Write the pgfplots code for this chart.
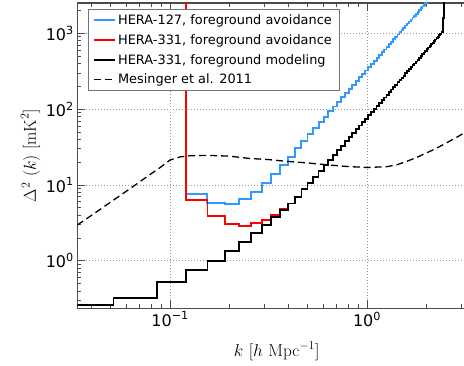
\documentclass[border=0pt]{standalone}
\usepackage[no-math]{fontspec}
\setmainfont{DejaVu Sans}
\usepackage{pgfplots}
\usepackage{pgfplotstable}
\pgfplotsset{compat=1.18}
\definecolor{heraBlue}{RGB}{51,153,255}

\pgfplotstableread{
k D
0.1204 50000
0.1204 7.6
0.1548 5.77
0.1892 5.55
0.2236 6.5
0.2580 8.1
0.2924 10.5
0.3268 13.9
0.3612 18.3
0.3956 23.6
0.4300 30.4
0.4644 37.8
0.4988 46.4
0.5332 56.1
0.5676 66.9
0.6020 79.3
0.6364 93.3
0.6708 108.4
0.7052 125.0
0.7396 143.2
0.7740 164.1
0.8084 185.4
0.8428 209.6
0.8772 235.2
0.9116 262.1
0.9460 292.3
0.9804 323.6
1.0148 358.3
1.0492 394.1
1.0836 433.5
1.1180 473.3
1.1524 517.2
1.1868 564.9
1.2212 612.6
1.2556 664.8
1.2900 721.1
1.3244 777.4
1.3588 837.5
1.3932 902.6
1.4276 966.1
1.4620 1034
1.4964 1106
1.5308 1184
1.5652 1268
1.5996 1348
1.6340 1432
1.6684 1522
1.7028 1618
1.7372 1709
1.7716 1816
1.8060 1919
1.8404 2025
1.8748 2138
1.9092 2258
1.9436 2384
1.9780 2500
2.0124 2641
2.0468 2768
2.0812 2768
}\heraA

\pgfplotstableread{
k D
0.1204 50000
0.1204 6.3
0.1548 3.93
0.1892 3.02
0.2236 2.87
0.2580 3.14
0.2924 3.48
0.3268 4.05
0.3612 4.9
0.3956 5.7
0.4300 7.0
0.4644 8.75
0.4988 10.5
0.5332 12.8
0.5676 15.4
0.6020 18.3
0.6364 21.3
0.6708 24.9
0.7052 28.8
0.7396 33.0
0.7740 37.8
0.8084 42.8
0.8428 48.4
0.8772 54.4
0.9116 60.7
0.9460 67.7
0.9804 75.0
1.0148 83.1
1.0492 91.4
1.0836 100.7
1.1180 109.9
1.1524 120.2
1.1868 131.4
1.2212 142.6
1.2556 154.9
1.2900 168.1
1.3244 181.1
1.3588 195.3
1.3932 210.6
1.4276 225.4
1.4620 241.5
1.4964 258.6
1.5308 276.8
1.5652 296.5
1.5996 315.3
1.6340 335.0
1.6684 356.5
1.7028 379.3
1.7372 400.6
1.7716 425.8
1.8060 449.8
1.8404 475.3
1.8748 502
1.9092 530
1.9436 560
1.9780 588
2.0124 620
2.0468 651
2.0812 682
2.1156 716
2.1500 752
2.1844 789
2.2188 827
2.2532 862
2.2876 904
2.3220 942
2.3564 988
2.3908 1029
2.4252 1600
2.4596 50000
2.4940 50000
}\heraB

\pgfplotstableread{
k D
0.0172 0.26
0.0516 0.325
0.0860 0.52
0.1204 0.75
0.1548 1.0
0.1892 1.34
0.2236 1.77
0.2580 2.3
0.2924 2.96
0.3268 3.8
0.3612 4.67
0.3956 5.7
0.4300 7.0
0.4644 8.75
0.4988 10.5
0.5332 12.8
0.5676 15.4
0.6020 18.3
0.6364 21.3
0.6708 24.9
0.7052 28.8
0.7396 33.0
0.7740 37.8
0.8084 42.8
0.8428 48.4
0.8772 54.4
0.9116 60.7
0.9460 67.7
0.9804 75.0
1.0148 83.1
1.0492 91.4
1.0836 100.7
1.1180 109.9
1.1524 120.2
1.1868 131.4
1.2212 142.6
1.2556 154.9
1.2900 168.1
1.3244 181.1
1.3588 195.3
1.3932 210.6
1.4276 225.4
1.4620 241.5
1.4964 258.6
1.5308 276.8
1.5652 296.5
1.5996 315.3
1.6340 335.0
1.6684 356.5
1.7028 379.3
1.7372 400.6
1.7716 425.8
1.8060 449.8
1.8404 475.3
1.8748 502
1.9092 530
1.9436 560
1.9780 588
2.0124 620
2.0468 651
2.0812 682
2.1156 716
2.1500 752
2.1844 789
2.2188 827
2.2532 862
2.2876 904
2.3220 942
2.3564 988
2.3908 1029
2.4252 1600
2.4596 50000
2.4940 50000
}\heraC

\pgfplotstableread{
k D
0.0338 2.96
0.0398 3.95
0.0501 5.98
0.0631 9.06
0.0794 13.8
0.0891 17.0
0.1000 21.3
0.1120 23.4
0.1260 24.3
0.1580 24.5
0.2000 24.0
0.2510 22.4
0.3160 21.6
0.3980 20.4
0.5010 19.5
0.6310 18.4
0.7940 17.5
1.0000 17.0
1.2590 17.4
1.4130 18.4
1.5850 20.4
1.7780 22.9
1.9950 26.3
2.2390 30.2
2.5120 35.5
2.8180 41.7
3.0900 47.9
3.5730 57.5
}\mesinger

\begin{document}
\begin{tikzpicture}
\begin{axis}[
  at={(0pt,0pt)}, anchor=south west,
  width=398.7pt, height=305.3pt, scale only axis,
  xmode=log, ymode=log,
  xmin=0.0338, xmax=3.576, ymin=0.236, ymax=2512,
  xtick={0.1,1},
  xticklabels={10\textsuperscript{−1},10\textsuperscript{0}},
  ytick={1,10,100,1000},
  yticklabels={10\textsuperscript{0},10\textsuperscript{1},10\textsuperscript{2},10\textsuperscript{3}},
  minor xtick={0.04,0.05,0.06,0.07,0.08,0.09,0.2,0.3,0.4,0.5,0.6,0.7,0.8,0.9,2,3},
  minor ytick={0.3,0.4,0.5,0.6,0.7,0.8,0.9,2,3,4,5,6,7,8,9,20,30,40,50,60,70,80,90,200,300,400,500,600,700,800,900,2000},
  tick align=inside,
  major tick length=8pt, minor tick length=4pt,
  xtick pos=both, ytick pos=both,
  axis line style={black!70, line width=1.1pt},
  major tick style={black!70, line width=0.8pt},
  minor tick style={black!70, line width=0.6pt},
  grid=major,
  major grid style={black!40, line width=0.7pt, dash pattern=on 1pt off 2pt},
  ticklabel style={font=\fontsize{16}{19}\selectfont},
  xlabel={$k\ [h\ \mathrm{Mpc}^{-1}]$},
  ylabel={$\Delta^2\ (k)\ [\mathrm{mK}^2]$},
  xlabel style={font=\fontsize{17.5}{20}\selectfont, at={(axis description cs:0.5,0)}, anchor=base, yshift=-48.5pt},
  ylabel style={font=\fontsize{17.5}{20}\selectfont, at={(axis description cs:-0.1041,0.5)}, anchor=base},
  legend cell align=left,
  legend image code/.code={\draw[#1] (0pt,0pt) -- (19pt,0pt); \path (0pt,0pt) -- (21pt,0pt);},
  legend style={at={(0.0268,0.979)}, anchor=north west,
    draw=black!55, fill=white,
    font=\fontsize{12.9}{15}\selectfont,
    inner xsep=5pt, inner ysep=3pt, row sep=4.5pt},
]
\addplot[const plot, heraBlue, line width=1.9pt] table[x=k,y=D] {\heraA};
\addlegendentry{HERA-127, foreground avoidance}
\addplot[const plot, red, line width=1.8pt] table[x=k,y=D] {\heraB};
\addlegendentry{HERA-331, foreground avoidance}
\addplot[const plot, black, line width=1.8pt] table[x=k,y=D] {\heraC};
\addlegendentry{HERA-331, foreground modeling}
\addplot[black, line width=1.3pt, dash pattern=on 7pt off 4pt] table[x=k,y=D] {\mesinger};
\addlegendentry{Mesinger et al. 2011}
\end{axis}
\pgfresetboundingbox
\path[use as bounding box] (-77.3pt,-57.7pt) rectangle (386.7pt,308.3pt);
\end{tikzpicture}
\end{document}
